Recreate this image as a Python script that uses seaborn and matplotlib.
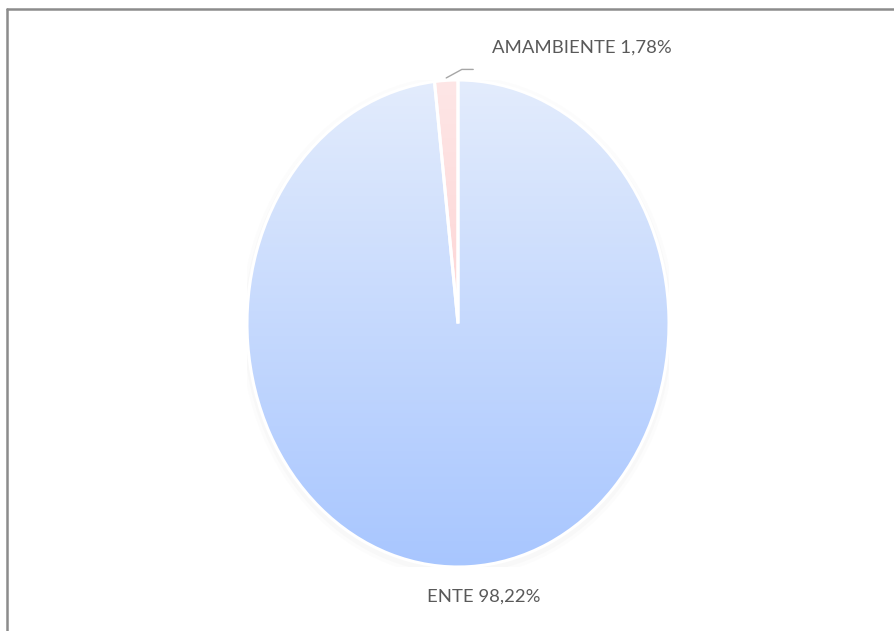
"""
Pie chart: ENTE vs AMAMBIENTE share (Excel-style gradient pie).
"""

import numpy as np
import matplotlib
matplotlib.use("Agg")
import matplotlib.pyplot as plt
from matplotlib.lines import Line2D
from matplotlib.patches import Ellipse
import seaborn as sns

# Data
labels = ["ENTE", "AMAMBIENTE"]
values = [98.22, 1.78]
value_text = ["98,22%", "1,78%"]

# Gradient colours (top -> bottom) per slice
grad_colors = [["#E3ECFC", "#A8C6FF"], ["#FEE6E6", "#FCC4C4"]]

sns.set_style("white")
fonts = ['Lato', 'DejaVu Sans']
plt.rcParams['font.family'] = fonts

W, H = 894, 631
fig = plt.figure(figsize=(W / 100, H / 100), dpi=100)

# pie bounding box in pixels (it is drawn as an ellipse)
x0, x1, y0, y1 = 247, 669, 80, 567
ax = fig.add_axes([x0 / W, 1 - y1 / H, (x1 - x0) / W, (y1 - y0) / H])

# soft shadow behind the pie
for grow, alpha in [(1.03, 0.025), (1.015, 0.035)]:
    ax.add_patch(Ellipse((0, -0.012), 2 * grow, 2 * grow, facecolor="#9a9a9a",
                         edgecolor="none", alpha=alpha, zorder=0))

wedges, _ = ax.pie(values, startangle=90, counterclock=False, radius=1,
                   wedgeprops=dict(edgecolor="white", linewidth=2.2))
ax.set_aspect("auto")
ax.set_xlim(-1, 1)
ax.set_ylim(-1, 1)
ax.axis("off")

# vertical gradient inside each wedge
grad = np.linspace(0, 1, 256).reshape(-1, 1)
for w, cols in zip(wedges, grad_colors):
    cmap = sns.blend_palette(cols, as_cmap=True)
    w.set_facecolor("none")
    im = ax.imshow(grad, cmap=cmap, extent=(-1, 1, -1, 1), origin="upper",
                   aspect="auto", zorder=1, interpolation="bicubic")
    im.set_clip_path(w)
    w.set_zorder(2)

# labels
text_kw = dict(fontsize=13.3, color="#595959", fontfamily=fonts)
angles = []
start = 90.0
for v in values:
    sweep = 360 * v / sum(values)
    angles.append(start - sweep / 2)
    start -= sweep

# ENTE label below the pie
a = np.deg2rad(angles[0])
ax.text(np.cos(a) + 0.065, -1.12, f"{labels[0]} {value_text[0]}",
        ha="center", va="center", clip_on=False, **text_kw)

# AMAMBIENTE label with a bent leader line
a = np.deg2rad(angles[1])
ex, ey = np.cos(a), np.sin(a) + 0.01
lx = [ex, ex + 0.074, ex + 0.128]
ly = [ey, ey + 0.035, ey + 0.035]
ax.plot(lx, ly, color="#A6A6A6", lw=1, clip_on=False, zorder=3)
ax.text(0.16, 1.135, f"{labels[1]} {value_text[1]}", ha="left", va="center",
        clip_on=False, **text_kw)

# chart area frame (only top/left visible in the crop)
fig.add_artist(Line2D([7 / W, 1], [1 - 9 / H, 1 - 9 / H], color="#8C8C8C", lw=1.8))
fig.add_artist(Line2D([7 / W, 7 / W], [0, 1 - 9 / H], color="#8C8C8C", lw=1.8))

fig.savefig("out.png", dpi=100, facecolor="white")
